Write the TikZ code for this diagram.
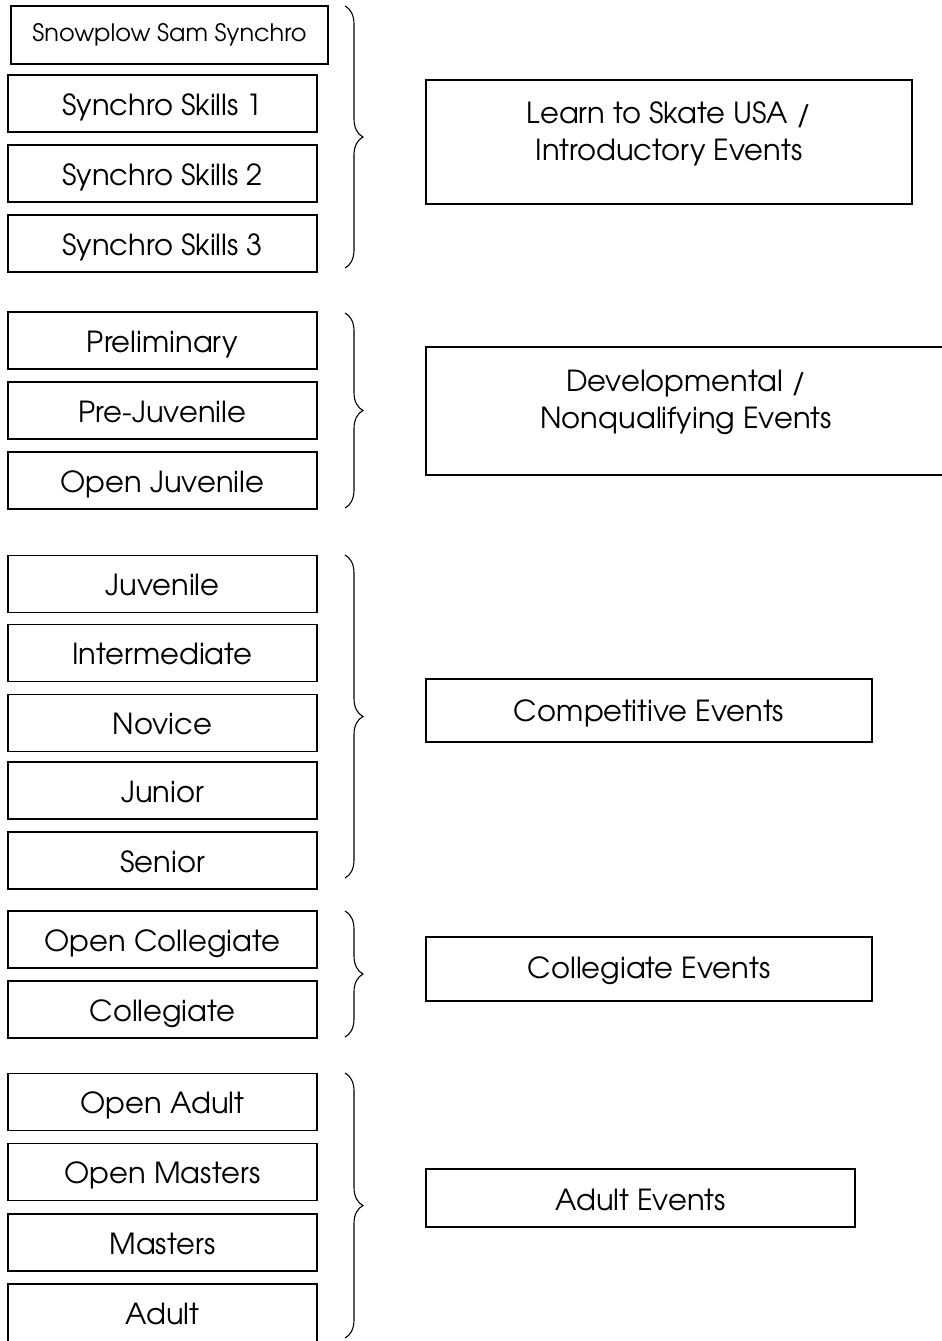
\documentclass[tikz,border=0pt]{standalone}
\usepackage{fontspec}
\setmainfont{TeX Gyre Adventor}
\usetikzlibrary{decorations.pathreplacing}
\begin{document}
\begin{tikzpicture}[x=1pt,y=-1pt,
  box/.style={draw=black, line width=1.4pt, rectangle, inner sep=0pt, align=center},
  lvl/.style={box, minimum width=309pt, minimum height=57pt, text height=24pt, text depth=1pt, font=\fontsize{29}{34}\selectfont},
  cat/.style={box},
  grp/.style={draw=black, line width=1.1pt, decorate, decoration={brace, amplitude=18pt}},
  txt/.style={inner sep=0pt, align=center, font=\fontsize{29}{37}\selectfont}]
\useasboundingbox (0,0) rectangle (942,1341);
% group 1
\node[box, minimum width=317pt, minimum height=58pt, font=\fontsize{24}{28}\selectfont] (sam) at (169.5,35) {Snowplow Sam Synchro};
\node[lvl] (ss1) at (162.5,103.5) {Synchro Skills 1};
\node[lvl] (ss2) at (162.5,173.5) {Synchro Skills 2};
\node[lvl] (ss3) at (162.5,243.5) {Synchro Skills 3};
% group 2
\node[lvl] (pre) at (162.5,340.5) {Preliminary};
\node[lvl] (pju) at (162.5,410.5) {Pre-Juvenile};
\node[lvl] (oju) at (162.5,480.5) {Open Juvenile};
% group 3
\node[lvl] (juv) at (162.5,584) {Juvenile};
\node[lvl] (int) at (162.5,653) {Intermediate};
\node[lvl] (nov) at (162.5,723) {Novice};
\node[lvl] (jun) at (162.5,790.5) {Junior};
\node[lvl] (sen) at (162.5,860.5) {Senior};
% group 4
\node[lvl] (oco) at (162.5,939.5) {Open Collegiate};
\node[lvl] (col) at (162.5,1009.5) {Collegiate};
% group 5
\node[lvl] (oad) at (162.5,1102) {Open Adult};
\node[lvl] (oma) at (162.5,1172) {Open Masters};
\node[lvl] (mas) at (162.5,1242.5) {Masters};
\node[lvl, minimum height=58pt] (adu) at (162.5,1313) {Adult};
% braces
\coordinate (b1t) at (345,6);    \coordinate (b1b) at (345,268);
\coordinate (b2t) at (345,313);  \coordinate (b2b) at (345,508);
\coordinate (b3t) at (345,555);  \coordinate (b3b) at (345,878);
\coordinate (b4t) at (345,911);  \coordinate (b4b) at (345,1037);
\coordinate (b5t) at (345,1073); \coordinate (b5b) at (345,1338);
\draw[grp] (b1t) -- (b1b);
\draw[grp] (b2t) -- (b2b);
\draw[grp] (b3t) -- (b3b);
\draw[grp] (b4t) -- (b4b);
\draw[grp] (b5t) -- (b5b);
% categories
\node[cat, minimum width=486pt, minimum height=124pt] (lts) at (669,142) {};
\node[txt] (ltst) at (669,133.5) {Learn to Skate USA /\\Introductory Events};
\node[cat, minimum width=520pt, minimum height=128pt] (dev) at (686,411) {};
\node[txt] (devt) at (686,402) {Developmental /\\Nonqualifying Events};
\node[cat, minimum width=446pt, minimum height=63pt] (cmp) at (649,710.5) {};
\node[txt] (cmpt) at (649,713) {Competitive Events};
\node[cat, minimum width=446pt, minimum height=64pt] (cle) at (649,969) {};
\node[txt] (clet) at (649,971) {Collegiate Events};
\node[cat, minimum width=429pt, minimum height=58pt] (ade) at (640.5,1198) {};
\node[txt] (adet) at (640.5,1200) {Adult Events};
\end{tikzpicture}
\end{document}
